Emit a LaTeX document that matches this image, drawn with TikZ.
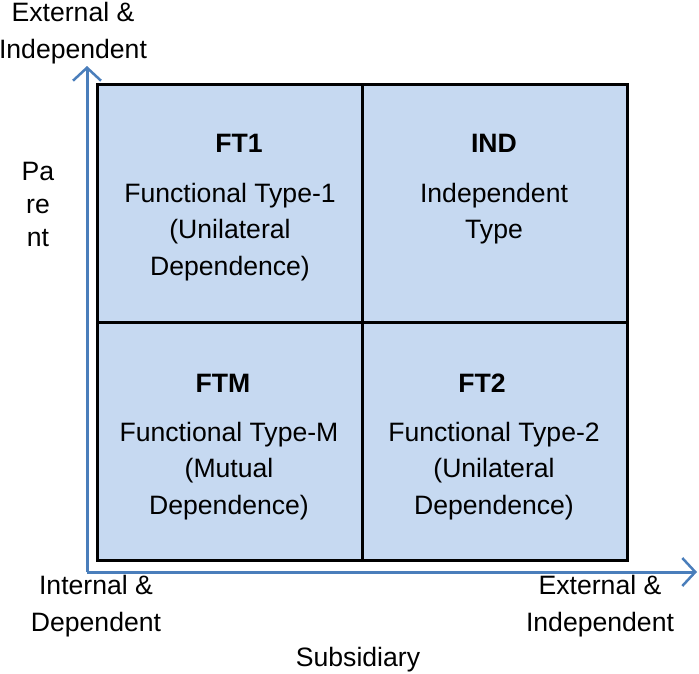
\documentclass[tikz,border=0pt]{standalone}
\usepackage{fontspec}
\setmainfont{Liberation Sans}
\usetikzlibrary{arrows.meta}
\definecolor{cellfill}{HTML}{C6D9F1}
\definecolor{axisblue}{HTML}{4A7EBB}
\begin{document}
\begin{tikzpicture}[x=1pt,y=-1pt,
  cell/.style={draw=black,line width=3pt,fill=cellfill,minimum width=265pt,minimum height=238pt,inner sep=0pt,anchor=center},
  lbl/.style={font=\fontsize{26.6}{36.5}\selectfont,inner sep=0pt,align=center,anchor=center},
  ttl/.style={font=\fontsize{26.6}{30}\selectfont\bfseries,inner sep=0pt,anchor=center},
  axis/.style={draw=axisblue,line width=3pt,-{Straight Barb[length=13pt,width=28pt,line width=2.5pt]}}
  ]
\useasboundingbox (0,0) rectangle (699,673);
% cells
\node[cell] (c11) at (229.5,203) {};
\node[cell] (c12) at (495,203) {};
\node[cell] (c21) at (229.5,441) {};
\node[cell] (c22) at (495,441) {};
% axes
\coordinate (o) at (87,572);
\coordinate (ytip) at (87,66);
\coordinate (xtip) at (697,572);
\draw[axis] (o) -- (ytip);
\draw[axis] (o) -- (xtip);
% cell texts
\node[ttl] (t11) at (239,143) {FT1};
\node[lbl] (b11) at (230,232) {Functional Type-1\\(Unilateral\\Dependence)};
\node[ttl] (t12) at (494,143) {IND};
\node[lbl] (b12) at (494,213.5) {Independent\\Type};
\node[ttl] (t21) at (223,383) {FTM};
\node[lbl] (b21) at (229,471) {Functional Type-M\\(Mutual\\Dependence)};
\node[ttl] (t22) at (482,383) {FT2};
\node[lbl] (b22) at (494,471) {Functional Type-2\\(Unilateral\\Dependence)};
% axis labels
\node[lbl] (ytop) at (73,33) {External \&\\Independent};
\node[lbl,font=\fontsize{26.6}{33}\selectfont] (par) at (38,204) {Pa\\re\\nt};
\node[lbl] (xl) at (96,606) {Internal \&\\Dependent};
\node[lbl] (xr) at (600,606) {External \&\\Independent};
\node[lbl] (sub) at (358,660) {Subsidiary};
\end{tikzpicture}
\end{document}
